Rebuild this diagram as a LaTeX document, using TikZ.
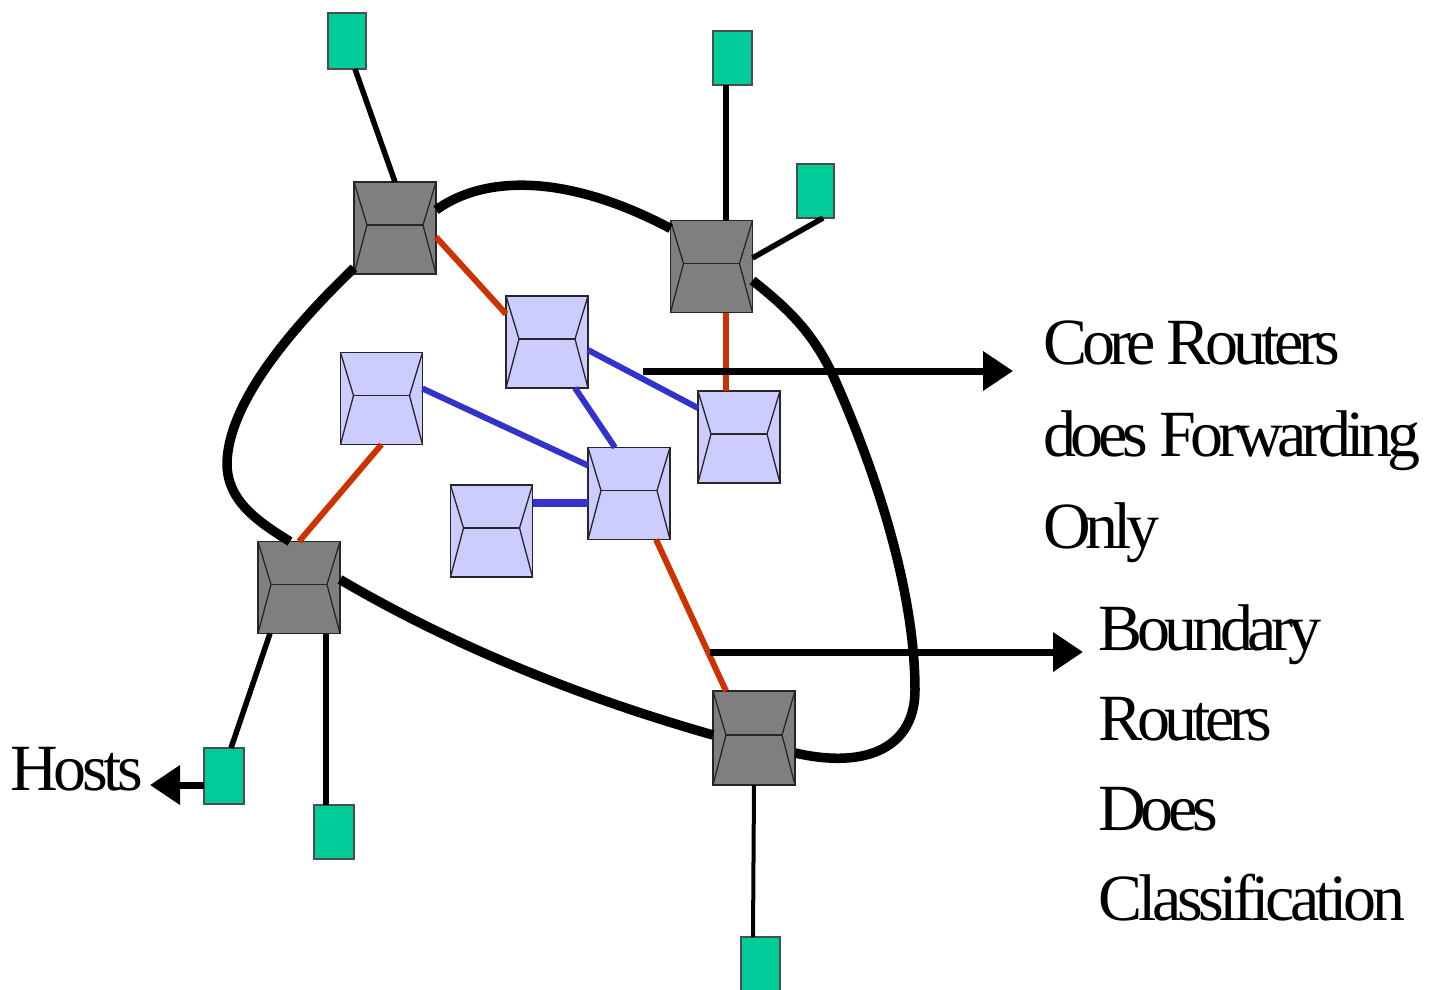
\documentclass[tikz,border=0pt]{standalone}
\usepackage{fontspec}
\setmainfont{Liberation Serif}
\newfontfamily\lbl[LetterSpace=-8]{Liberation Serif}
\newfontfamily\lblb[LetterSpace=-6.5]{Liberation Serif}
\usetikzlibrary{calc,arrows.meta}
\definecolor{gfill}{HTML}{7F7F7F}
\definecolor{lfill}{HTML}{CCCCFF}
\definecolor{hfill}{HTML}{00CC99}
\definecolor{rline}{HTML}{CC3300}
\definecolor{bline}{HTML}{3333CC}
\tikzset{
  routerbox/.style={draw=black!85,line width=1.6pt,inner sep=0pt,outer sep=0pt,minimum width=82pt,minimum height=92pt},
  grayrouter/.style={routerbox,fill=gfill},
  lightrouter/.style={routerbox,fill=lfill},
  hostbox/.style={draw=black!70,line width=1.2pt,fill=hfill,inner sep=0pt,outer sep=0pt,minimum width=39pt,minimum height=55pt},
  blackline/.style={draw=black,line width=5.5pt},
  redline/.style={draw=rline,line width=6pt},
  blueline/.style={draw=bline,line width=6pt},
  ring/.style={draw=black,line width=9.5pt},
  pointer/.style={draw=black,line width=7pt,-{Triangle[length=30pt,width=38pt]}},
  facet/.style={draw=black!85,line width=1.3pt},
  caption/.style={align=left,anchor=north west,inner sep=0pt,text=black},
}
\newcommand{\facets}[1]{%
  \draw[facet] (#1.north west) -- ($(#1.west)+(13pt,3pt)$) -- (#1.south west);
  \draw[facet] (#1.north east) -- ($(#1.east)+(-13pt,3pt)$) -- (#1.south east);
  \draw[facet] ($(#1.west)+(13pt,3pt)$) -- ($(#1.east)+(-13pt,3pt)$);
}
\begin{document}
\begin{tikzpicture}[x=1pt,y=-1pt]
\useasboundingbox (0,0) rectangle (1435,990);
% routers
\node[grayrouter] (g1) at (395,228) {};
\node[grayrouter] (g2) at (711.5,266.5) {};
\node[grayrouter] (g3) at (299,587.5) {};
\node[grayrouter,minimum height=94pt] (g4) at (754,738) {};
\node[lightrouter] (a) at (547,342) {};
\node[lightrouter] (b) at (381.5,398.5) {};
\node[lightrouter] (c) at (739,437) {};
\node[lightrouter] (d) at (629,493.5) {};
\node[lightrouter] (e) at (491.5,531) {};
\foreach \n in {g1,g2,g3,g4,a,b,c,d,e} {\facets{\n}}
% hosts
\node[hostbox,minimum width=38pt,minimum height=56pt] (s1) at (347,41) {};
\node[hostbox,minimum height=54pt] (s2) at (732.5,58) {};
\node[hostbox,minimum width=37pt,minimum height=54pt] (s3) at (815.5,191) {};
\node[hostbox,minimum width=40pt,minimum height=56pt] (s4) at (224,776) {};
\node[hostbox,minimum width=40pt,minimum height=54pt] (s5) at (334,832) {};
\node[hostbox,minimum height=56pt] (s6) at (760.5,965) {};
% text
\node[caption,font=\lbl\fontsize{66}{92}\selectfont] (core) at (1043,321) {Core Routers\\does Forwarding\\Only};
\node[caption,font=\lbl\fontsize{66}{90}\selectfont] (bound) at (1098,604) {Boundary\\Routers\\Does\\{\lblb Classification}};
\node[font=\lblb\fontsize{66}{72}\selectfont,anchor=base west,inner sep=0pt] (hosts) at (10,790) {Hosts};
\coordinate (corein) at (643,371);
\coordinate (coreout) at (1013,371);
\coordinate (boundin) at (710,652);
\coordinate (boundout) at (1083,652);
\coordinate (hostsout) at (150,785);
% ring
\draw[ring] ([yshift=18pt]g1.east) .. controls (480,178) and (560,170) .. ([yshift=38pt]g2.west);
\draw[ring] ([yshift=-14pt]g2.east) .. controls (790,310) and (815,335) .. (835,380) .. controls (875,470) and (915,590) .. (915,690) .. controls (915,745) and (870,770) .. ([yshift=-15pt]g4.east);
\draw[ring] ([yshift=3pt]g4.west) .. controls (590,700) and (460,650) .. ([yshift=8pt]g3.east);
\draw[ring] ([xshift=-9pt]g3.north) .. controls (255,520) and (228,500) .. (227,465) .. controls (227,400) and (300,320) .. ([yshift=-40pt]g1.west);
% connectors
\draw[blackline] ([xshift=8pt]s1.south) -- (g1.north);
\draw[blackline] ([xshift=-6.5pt]s2.south) -- ([xshift=14.5pt]g2.north);
\draw[blackline] ([xshift=7.5pt]s3.south) -- ([yshift=8.5pt]g2.east);
\draw[blackline] ([xshift=-29pt]g3.south) -- ([xshift=7pt]s4.north);
\draw[blackline] ([xshift=27pt]g3.south) -- ([xshift=-8pt]s5.north);
\draw[draw=black,line width=4pt] (g4.south) -- ([xshift=-7.5pt]s6.north);
\draw[redline] ([yshift=-9pt]g1.east) -- ([yshift=28pt]a.west);
\draw[redline] ([xshift=14.5pt]g2.south) -- ([xshift=-13pt]c.north);
\draw[redline] (b.south) -- (g3.north);
\draw[redline] ([xshift=27pt]d.south) -- ([xshift=-28pt]g4.north);
\draw[blueline] ([yshift=-8pt]a.east) -- ([yshift=29pt]c.west);
\draw[blueline] ([xshift=28pt]a.south) -- ([xshift=-14pt]d.north);
\draw[blueline] ([yshift=10pt]b.east) -- ([yshift=28pt]d.west);
\draw[draw=bline,line width=8pt] ([yshift=28pt]e.east) -- ([yshift=-9.5pt]d.west);
% pointers
\draw[pointer] (corein) -- (coreout);
\draw[pointer] (boundin) -- (boundout);
\draw[pointer] (s4.west |- hostsout) -- (hostsout);
\end{tikzpicture}
\end{document}
